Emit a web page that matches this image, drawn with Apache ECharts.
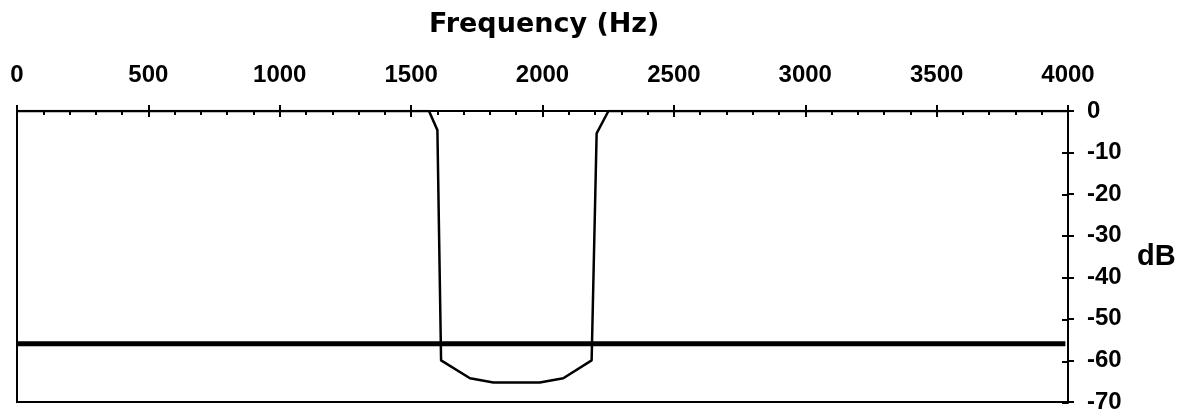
<!DOCTYPE html>
<html>
<head>
<meta charset="utf-8">
<script src="https://cdn.jsdelivr.net/npm/echarts@6/dist/echarts.min.js"></script>
<style>
  html, body { margin: 0; padding: 0; background: #fff; }
  #chart { width: 1182px; height: 414px; }
</style>
</head>
<body>
<div id="chart"></div>
<script>
  // --- Data ---
  var notchFreq = [0, 1568, 1600, 1614, 1724, 1813, 1990, 2079, 2187, 2206, 2251, 4000];
  var notchDb   = [0, 0, -4.6, -60, -64.3, -65.3, -65.3, -64.3, -60, -5.4, 0, 0];
  var floorFreq = [0, 3990];
  var floorDb   = [-56, -56];

  var xTitle = 'Frequency (Hz)';
  var yTitle = 'dB';

  function pairs(xs, ys) {
    var out = [];
    for (var i = 0; i < xs.length; i++) out.push([xs[i], ys[i]]);
    return out;
  }

  var LABEL_FONT = { fontFamily: 'Liberation Sans', fontWeight: 'bold', fontSize: 24, color: '#000' };
  var AXIS_LINE = { show: true, onZero: false, lineStyle: { color: '#000', width: 2 } };
  var RECT = { left: 17, right: 114, top: 111, bottom: 11 };

  function plain(v) { return String(v); }

  var chart = echarts.init(document.getElementById('chart'));
  chart.setOption({
    animation: false,
    backgroundColor: '#fff',
    title: {
      text: xTitle,
      left: 424,
      top: 6,
      textStyle: { fontFamily: 'DejaVu Sans', fontWeight: 'bold', fontSize: 27, color: '#000' }
    },
    grid: [
      Object.assign({ show: true, borderColor: '#000', borderWidth: 2, backgroundColor: 'transparent' }, RECT),
      Object.assign({ show: false }, RECT)
    ],
    xAxis: [
      {
        gridIndex: 0, type: 'value', position: 'top', min: 0, max: 4000, interval: 500,
        axisLine: AXIS_LINE,
        axisTick: { show: true, length: 6, lineStyle: { color: '#000', width: 2 } },
        axisLabel: Object.assign({ margin: 24, formatter: plain }, LABEL_FONT),
        splitLine: { show: false }
      },
      {
        gridIndex: 1, type: 'value', position: 'top', min: 0, max: 4000, interval: 500,
        axisLine: AXIS_LINE,
        axisTick: { show: true, inside: true, length: 6, lineStyle: { color: '#000', width: 2 } },
        minorTick: { show: true, splitNumber: 5, length: 4, lineStyle: { color: '#000', width: 2 } },
        axisLabel: { show: false },
        splitLine: { show: false }
      }
    ],
    yAxis: [
      {
        gridIndex: 0, type: 'value', position: 'right', min: -70, max: 0, interval: 10,
        axisLine: AXIS_LINE,
        axisTick: { show: true, length: 6, lineStyle: { color: '#000', width: 2 } },
        axisLabel: Object.assign({ margin: 19, align: 'left', formatter: plain }, LABEL_FONT),
        splitLine: { show: false },
        name: yTitle,
        nameLocation: 'middle',
        nameRotate: 0,
        nameGap: 69,
        nameTextStyle: { fontFamily: 'Liberation Sans', fontWeight: 'bold', fontSize: 29, color: '#000' }
      },
      {
        gridIndex: 1, type: 'value', position: 'right', min: -70, max: 0, interval: 10,
        axisLine: AXIS_LINE,
        axisTick: { show: true, inside: true, length: 6, lineStyle: { color: '#000', width: 2 } },
        axisLabel: { show: false },
        splitLine: { show: false }
      }
    ],
    series: [
      {
        name: 'Notch', type: 'line', xAxisIndex: 0, yAxisIndex: 0,
        data: pairs(notchFreq, notchDb),
        symbol: 'none', lineStyle: { color: '#000', width: 2.5 }
      },
      {
        name: 'Floor', type: 'line', xAxisIndex: 0, yAxisIndex: 0,
        data: pairs(floorFreq, floorDb),
        symbol: 'none', lineStyle: { color: '#000', width: 5 }
      }
    ]
  });
</script>
</body>
</html>
